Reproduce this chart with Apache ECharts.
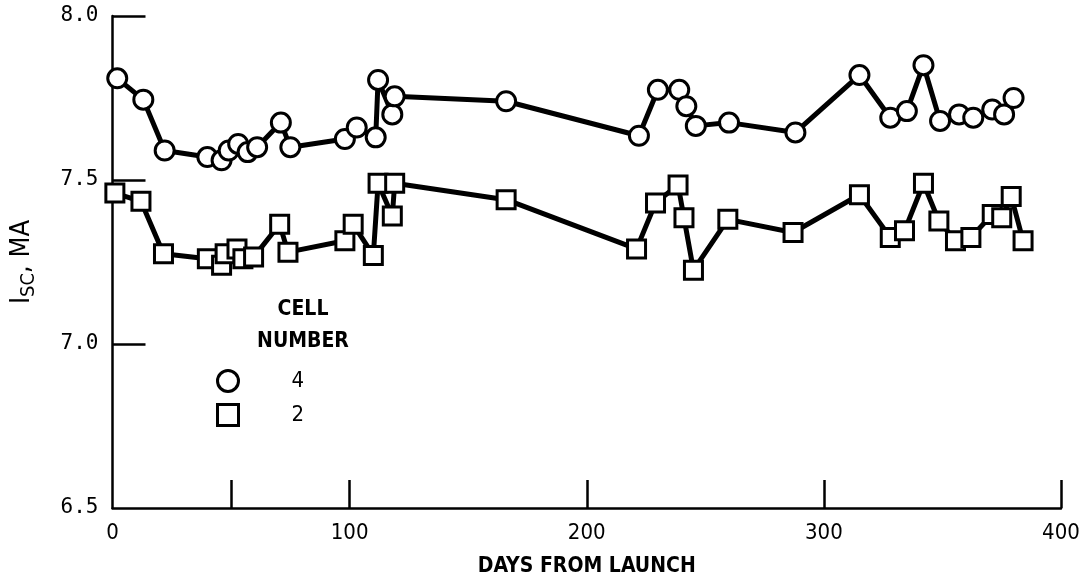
<!DOCTYPE html>
<html>
<head>
<meta charset="utf-8">
<title>Isc vs days from launch</title>
<script src="https://cdn.jsdelivr.net/npm/echarts@6/dist/echarts.min.js"></script>
<style>
  html, body { margin: 0; padding: 0; background: #ffffff; }
  #chart { width: 1084px; height: 583px; }
</style>
</head>
<body>
<div id="chart"></div>
<script>
// cell 4 (circles)
const days4 = [2, 13, 22, 40, 46, 49, 53, 57, 61, 71, 75, 98, 103, 111, 112, 118, 119, 166,
  222, 230, 239, 242, 246, 260, 288, 315, 328, 335, 342, 349, 357, 363, 371, 376, 380];
const isc4 = [7.81, 7.745, 7.59, 7.57, 7.56, 7.59, 7.61, 7.585, 7.60, 7.675, 7.60, 7.625, 7.66, 7.63, 7.805, 7.70, 7.755, 7.74,
  7.635, 7.775, 7.775, 7.725, 7.665, 7.675, 7.645, 7.82, 7.69, 7.71, 7.85, 7.68, 7.70, 7.69, 7.715, 7.70, 7.75];

// cell 2 (squares)
const days2 = [1, 12, 21.5, 40, 46, 47.5, 52.5, 55, 59.5, 70.5, 74, 98, 101.5, 110, 112, 118, 119, 166,
  221, 229, 238.5, 241, 245, 259.5, 287, 315, 328, 334, 342, 348.5, 355.5, 362, 371, 375, 379, 384];
const isc2 = [7.46, 7.435, 7.275, 7.26, 7.24, 7.275, 7.29, 7.26, 7.265, 7.365, 7.28, 7.315, 7.365, 7.27, 7.49, 7.39, 7.49, 7.44,
  7.29, 7.43, 7.485, 7.385, 7.225, 7.38, 7.34, 7.455, 7.325, 7.345, 7.49, 7.375, 7.315, 7.325, 7.395, 7.385, 7.45, 7.315];

const xLabels = [0, 100, 200, 300, 400];
const xTicks = [50, 100, 200, 300, 400];
const yLabels = [6.5, 7.0, 7.5, 8.0];
const yTicks = [7.0, 7.5, 8.0];

const zip = (xs, ys) => xs.map((x, i) => [x, ys[i]]);

const labelFont = "'DejaVu Sans Condensed', 'Liberation Sans Narrow', 'DejaVu Sans', sans-serif";
const monoFont = "'DejaVu Sans Mono', monospace";

const markerStyle = {
  color: '#ffffff',
  borderColor: '#000000',
  borderWidth: 3,
};

const myChart = echarts.init(document.getElementById('chart'), null, { renderer: 'canvas' });

const option = {
  backgroundColor: '#ffffff',
  animation: false,
  title: {
    text: 'CELL\nNUMBER',
    left: 298,
    top: 289,
    textAlign: 'center',
    textStyle: {
      fontFamily: labelFont,
      fontSize: 21,
      fontWeight: 'bold',
      lineHeight: 32,
      color: '#000',
    },
  },
  legend: {
    orient: 'vertical',
    left: 211,
    top: 364,
    itemWidth: 21,
    itemHeight: 21,
    itemGap: 10,
    itemStyle: markerStyle,
    data: [
      { name: '4', icon: 'circle' },
      { name: '2', icon: 'rect' },
    ],
    formatter: (name) => '{t|' + name + '}',
    textStyle: {
      color: '#000',
      rich: {
        t: {
          fontFamily: labelFont,
          fontSize: 22,
          padding: [0, 0, 0, 48],
        },
      },
    },
  },
  grid: {
    left: 106,
    right: 23,
    top: 16,
    bottom: 75,
    containLabel: false,
  },
  xAxis: {
    type: 'value',
    min: 0,
    max: 400,
    name: 'DAYS FROM LAUNCH',
    nameLocation: 'middle',
    nameGap: 48,
    nameTextStyle: {
      fontFamily: labelFont,
      fontSize: 21,
      fontWeight: 'bold',
      color: '#000',
    },
    splitLine: { show: false },
    axisLine: {
      onZero: false,
      lineStyle: { color: '#000', width: 2.5 },
    },
    axisTick: {
      inside: true,
      length: 28,
      customValues: xTicks,
      lineStyle: { color: '#000', width: 2.5 },
    },
    axisLabel: {
      customValues: xLabels,
      margin: 14,
      fontFamily: labelFont,
      fontSize: 22,
      color: '#000',
    },
  },
  yAxis: {
    type: 'value',
    min: 6.5,
    max: 8.0,
    name: '{i|I}{s|SC}{i|, MA}',
    nameLocation: 'middle',
    nameRotate: 90,
    nameGap: 74,
    nameTextStyle: {
      color: '#000',
      rich: {
        i: { fontFamily: labelFont, fontSize: 27, lineHeight: 34, verticalAlign: 'middle' },
        s: { fontFamily: labelFont, fontSize: 20, lineHeight: 34, verticalAlign: 'bottom' },
      },
    },
    splitLine: { show: false },
    axisLine: {
      onZero: false,
      lineStyle: { color: '#000', width: 2.5 },
    },
    axisTick: {
      inside: true,
      length: 33,
      customValues: yTicks,
      lineStyle: { color: '#000', width: 2.5 },
    },
    axisLabel: {
      customValues: yLabels,
      margin: 14,
      fontFamily: monoFont,
      fontSize: 21,
      color: '#000',
      formatter: (v) => v.toFixed(1),
    },
  },
  series: [
    {
      name: '4',
      type: 'line',
      data: zip(days4, isc4),
      symbol: 'circle',
      symbolSize: 19,
      clip: false,
      lineStyle: { color: '#000', width: 5 },
      itemStyle: markerStyle,
    },
    {
      name: '2',
      type: 'line',
      data: zip(days2, isc2),
      symbol: 'rect',
      symbolSize: 18,
      clip: false,
      lineStyle: { color: '#000', width: 5 },
      itemStyle: markerStyle,
    },
  ],
};

myChart.setOption(option);
window.addEventListener('resize', () => myChart.resize());
</script>
</body>
</html>
